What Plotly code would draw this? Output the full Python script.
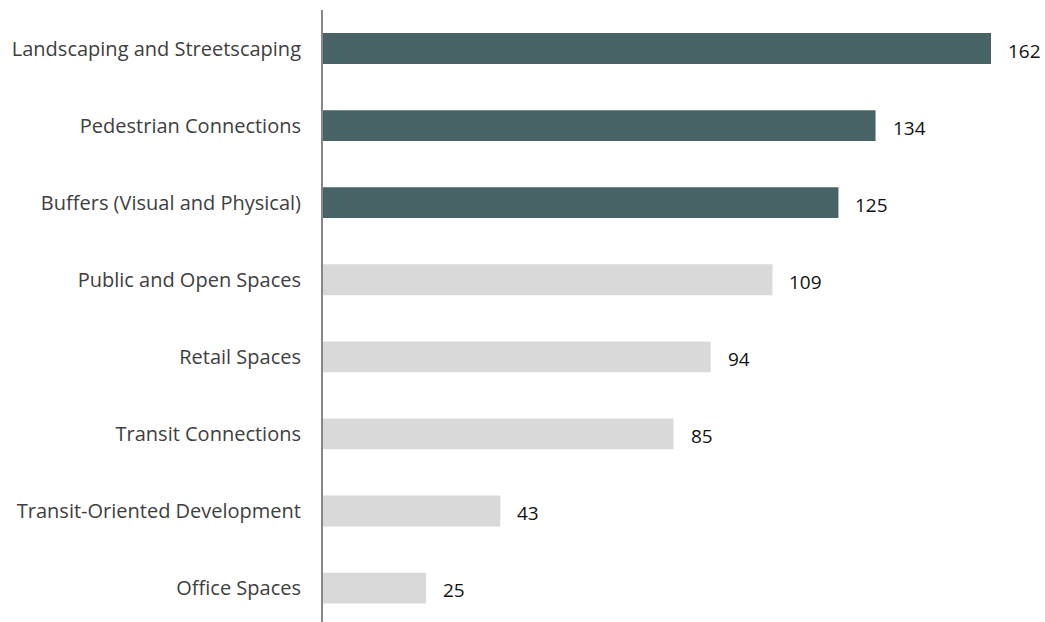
import plotly.graph_objects as go

categories = [
    "Landscaping and Streetscaping",
    "Pedestrian Connections",
    "Buffers (Visual and Physical)",
    "Public and Open Spaces",
    "Retail Spaces",
    "Transit Connections",
    "Transit-Oriented Development",
    "Office Spaces",
]
values = [162, 134, 125, 109, 94, 85, 43, 25]
highlight = [True, True, True, False, False, False, False, False]

DARK = "#476366"
LIGHT = "#d9d9d9"
colors = [DARK if h else LIGHT for h in highlight]

fig = go.Figure()
fig.add_trace(go.Bar(
    y=categories, x=values, orientation="h",
    marker=dict(color=colors, line=dict(width=0)),
    width=0.4, hoverinfo="skip",
))

for c, v in zip(categories, values):
    fig.add_annotation(x=v, y=c, text=str(v), showarrow=False,
                       xanchor="left", xshift=15, yshift=-2,
                       font=dict(family="Open Sans", size=19, color="#111111"))

fig.update_layout(
    width=1045, height=622,
    margin=dict(l=323, r=21, t=10, b=0),
    paper_bgcolor="white", plot_bgcolor="white",
    showlegend=False,
    font=dict(family="Open Sans", size=20, color="#404040"),
    xaxis=dict(range=[0, 170], showgrid=False, zeroline=False,
               showticklabels=False, showline=False, fixedrange=True),
    yaxis=dict(type="category", categoryorder="array", categoryarray=categories,
               range=[7.44, -0.5], showgrid=False, zeroline=False,
               showline=True, linecolor="#878787", linewidth=2,
               ticks="", ticklabelstandoff=16,
               tickfont=dict(family="Open Sans", size=20, color="#404040")),
)

fig.write_html("out.html")
